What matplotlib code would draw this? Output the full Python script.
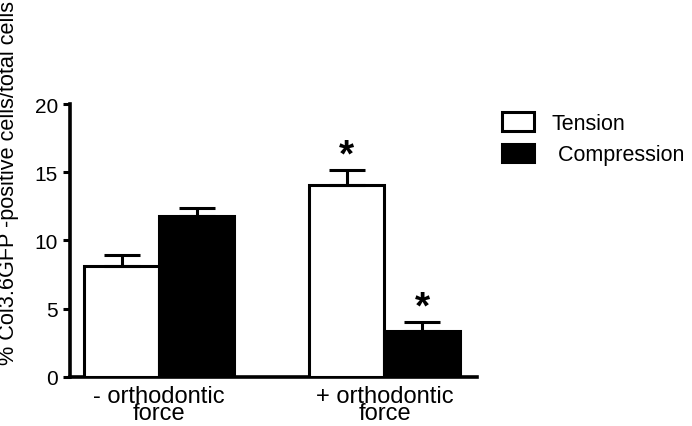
import numpy as np
import matplotlib
matplotlib.use('Agg')
import matplotlib.pyplot as plt

plt.rcParams['font.family'] = ['Liberation Sans', 'DejaVu Sans']

groups = ['- orthodontic\nforce', '+ orthodontic\nforce']
series = ['Tension', ' Compression']
tension = [8.1, 14.1]
tension_err = [0.8, 1.1]
compression = [11.8, 3.4]
compression_err = [0.6, 0.65]
significant_tension = [False, True]
significant_compression = [False, True]

fig = plt.figure(figsize=(6.92, 4.27), dpi=100)
ax = fig.add_axes([0.101, 0.115, 0.588, 0.639])

centers = np.array([0, 3.0])
w = 1.0
err_kw = dict(elinewidth=2.2, capthick=2.2, capsize=13, ecolor='black')

ax.bar(centers - w / 2, tension, w, color='white', edgecolor='black', linewidth=2.2,
       yerr=[np.zeros(2), tension_err], error_kw=err_kw, label=series[0], zorder=3)
ax.bar(centers + w / 2, compression, w, color='black', edgecolor='black', linewidth=2.2,
       yerr=[np.zeros(2), compression_err], error_kw=err_kw, label=series[1], zorder=3)

for i in range(2):
    if significant_tension[i]:
        ax.text(centers[i] - w / 2, tension[i] + tension_err[i] + 1.05, '*',
                ha='center', va='center', fontsize=28, fontweight='bold')
    if significant_compression[i]:
        ax.text(centers[i] + w / 2, compression[i] + compression_err[i] + 1.05, '*',
                ha='center', va='center', fontsize=28, fontweight='bold')

ax.set_xlim(-1.19, 4.23)
ax.set_ylim(0, 20)
ax.set_yticks([0, 5, 10, 15, 20])
ax.tick_params(axis='y', labelsize=15, width=2.2, length=5, direction='out')
ax.set_xticks(centers)
ax.set_xticklabels(groups, fontsize=17, linespacing=0.72)
ax.tick_params(axis='x', length=0, pad=6)

for s in ['top', 'right']:
    ax.spines[s].set_visible(False)
for s in ['left', 'bottom']:
    ax.spines[s].set_linewidth(2.6)

fig.text(0.013, 0.998, '% Col3.6GFP -positive cells/total cells', rotation=90,
         ha='center', va='top', fontsize=15.6)

leg = ax.legend(loc='upper left', bbox_to_anchor=(1.025, 1.025), frameon=False,
                fontsize=15.5, handlelength=1.5, handleheight=0.95, handletextpad=0.8,
                labelspacing=0.45, borderpad=0.2)

fig.savefig('out.png', dpi=100)
